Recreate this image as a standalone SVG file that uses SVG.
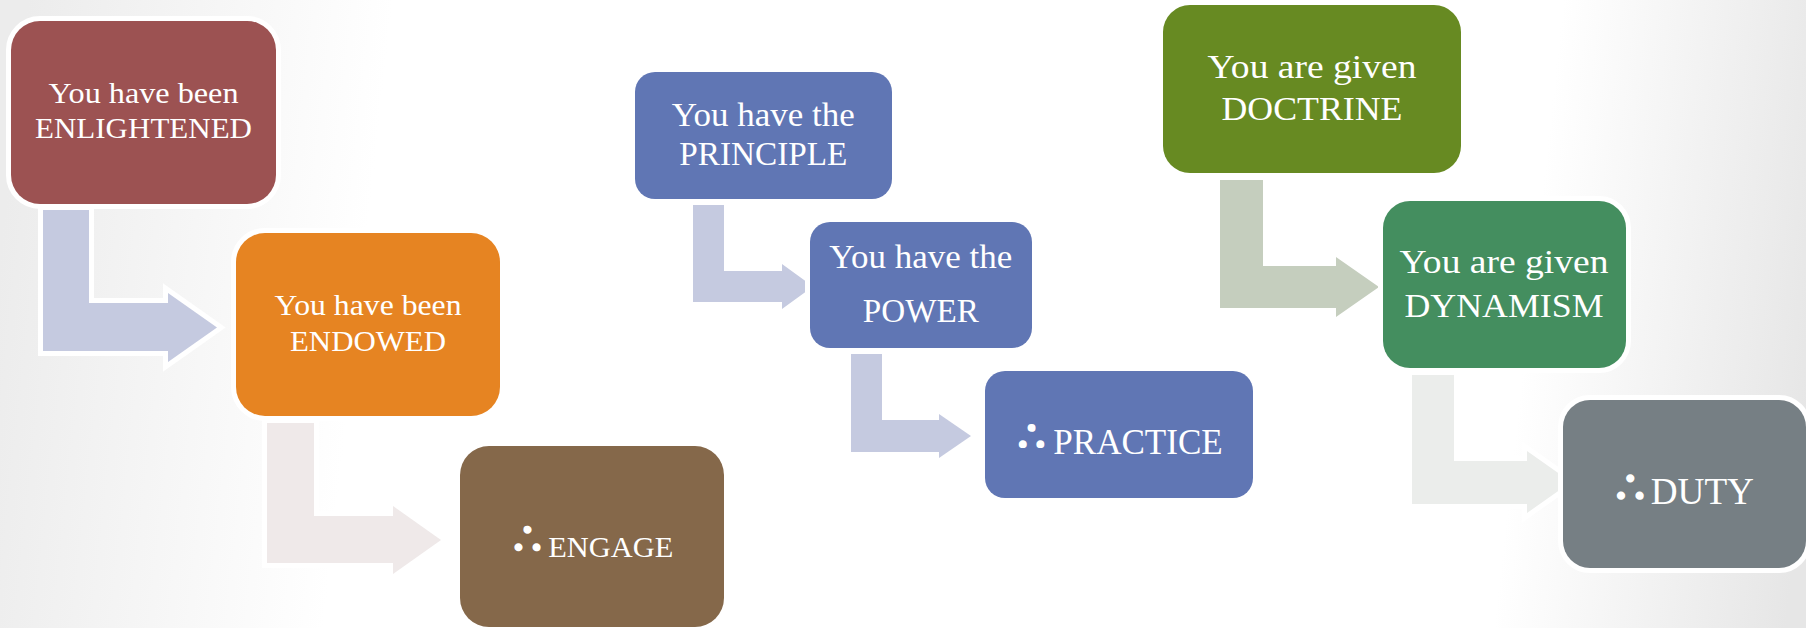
<svg xmlns="http://www.w3.org/2000/svg" width="1806" height="628" viewBox="0 0 1806 628">
<defs>
<linearGradient id="bg" gradientUnits="userSpaceOnUse" x1="0" y1="250" x2="1806" y2="450">
<stop offset="0" stop-color="#ececec"/>
<stop offset="0.2" stop-color="#ffffff"/>
<stop offset="0.84" stop-color="#ffffff"/>
<stop offset="1" stop-color="#e6e6e6"/>
</linearGradient>
<style>
.box{stroke:#ffffff;stroke-width:10;paint-order:stroke}
.arr{stroke:#ffffff;stroke-width:10;stroke-linejoin:miter;paint-order:stroke}
.t{font-family:"Liberation Serif","DejaVu Serif",serif;fill:#ffffff;text-anchor:middle}
.ts{font-family:"Liberation Serif","DejaVu Serif",serif;fill:#ffffff;text-anchor:start}
.th{font-family:"Noto Sans CJK JP","Noto Sans CJK SC",sans-serif;font-weight:bold;fill:#ffffff;stroke:#ffffff;stroke-width:1.6;text-anchor:start}
</style>
</defs>
<rect x="0" y="0" width="1806" height="628" fill="url(#bg)"/>
<g id="connectors">
<path class="arr" fill="#C5CAE0" d="M43 210 L89 210 L89 303 L168 303 L168 293 L217 327.5 L168 362 L168 351 L43 351 Z"/>
<path class="arr" fill="#EFE9E9" d="M267 423 L314 423 L314 516 L393 516 L393 506 L441 540 L393 574 L393 563 L267 563 Z"/>
<path class="arr" fill="#C5CAE0" d="M693 205 L724 205 L724 271 L782 271 L782 264 L813 286.5 L782 309 L782 302 L693 302 Z"/>
<path class="arr" fill="#C5CAE0" d="M851 354 L882 354 L882 420 L939 420 L939 414 L971 436 L939 458 L939 452 L851 452 Z"/>
<path class="arr" fill="#C5CEBE" d="M1220 180 L1263 180 L1263 266 L1336 266 L1336 257 L1379 287 L1336 317 L1336 308 L1220 308 Z"/>
<path class="arr" fill="#EBEDEB" d="M1412 375 L1454 375 L1454 461 L1527 461 L1527 451 L1571 482 L1527 513 L1527 504 L1412 504 Z"/>
</g>
<g id="enlightened">
<rect class="box" x="11" y="21" width="265" height="183" rx="29" fill="#9C5252"/>
<text class="t" x="143.5" y="102.7" font-size="30" textLength="190" lengthAdjust="spacingAndGlyphs">You have been</text>
<text class="t" x="143.5" y="138.3" font-size="30" textLength="217" lengthAdjust="spacingAndGlyphs">ENLIGHTENED</text>
</g>
<g id="endowed">
<rect class="box" x="236" y="233" width="264" height="183" rx="29" fill="#E68422"/>
<text class="t" x="368" y="315" font-size="30" textLength="187" lengthAdjust="spacingAndGlyphs">You have been</text>
<text class="t" x="368" y="351" font-size="30" textLength="156" lengthAdjust="spacingAndGlyphs">ENDOWED</text>
</g>
<g id="engage">
<rect class="box" x="460" y="446" width="264" height="181" rx="29" fill="#85684A"/>
<text class="th" x="509" y="553" font-size="37">∴</text>
<text class="ts" x="548.3" y="556.7" font-size="30" textLength="125" lengthAdjust="spacingAndGlyphs">ENGAGE</text>
</g>
<g id="principle">
<rect class="box" x="635" y="72" width="257" height="127" rx="20" fill="#6076B4"/>
<text class="t" x="763.3" y="126" font-size="33.5" textLength="183" lengthAdjust="spacingAndGlyphs">You have the</text>
<text class="t" x="763.3" y="165" font-size="33.5" textLength="168" lengthAdjust="spacingAndGlyphs">PRINCIPLE</text>
</g>
<g id="power">
<rect class="box" x="810" y="222" width="222" height="126" rx="20" fill="#6076B4"/>
<text class="t" x="920.8" y="268.3" font-size="33.5" textLength="183" lengthAdjust="spacingAndGlyphs">You have the</text>
<text class="t" x="920.8" y="321.7" font-size="33.5" textLength="116" lengthAdjust="spacingAndGlyphs">POWER</text>
</g>
<g id="practice">
<rect class="box" x="985" y="371" width="268" height="127" rx="20" fill="#6076B4"/>
<text class="th" x="1013.5" y="450" font-size="36">∴</text>
<text class="ts" x="1053.3" y="454" font-size="35.5" textLength="169.4" lengthAdjust="spacingAndGlyphs">PRACTICE</text>
</g>
<g id="doctrine">
<rect class="box" x="1163" y="5" width="298" height="168" rx="27" fill="#678A22"/>
<text class="t" x="1312" y="78.3" font-size="34" textLength="209" lengthAdjust="spacingAndGlyphs">You are given</text>
<text class="t" x="1312" y="120" font-size="34" textLength="181" lengthAdjust="spacingAndGlyphs">DOCTRINE</text>
</g>
<g id="dynamism">
<rect class="box" x="1383" y="201" width="243" height="167" rx="27" fill="#448E5F"/>
<text class="t" x="1504" y="273.3" font-size="34" textLength="209" lengthAdjust="spacingAndGlyphs">You are given</text>
<text class="t" x="1504" y="316.7" font-size="34" textLength="199" lengthAdjust="spacingAndGlyphs">DYNAMISM</text>
</g>
<g id="duty">
<rect class="box" x="1563" y="400" width="243" height="168" rx="27" fill="#767F84"/>
<text class="th" x="1611.3" y="500.5" font-size="38">∴</text>
<text class="ts" x="1650.7" y="504" font-size="38" textLength="103.3" lengthAdjust="spacingAndGlyphs">DUTY</text>
</g>
</svg>
